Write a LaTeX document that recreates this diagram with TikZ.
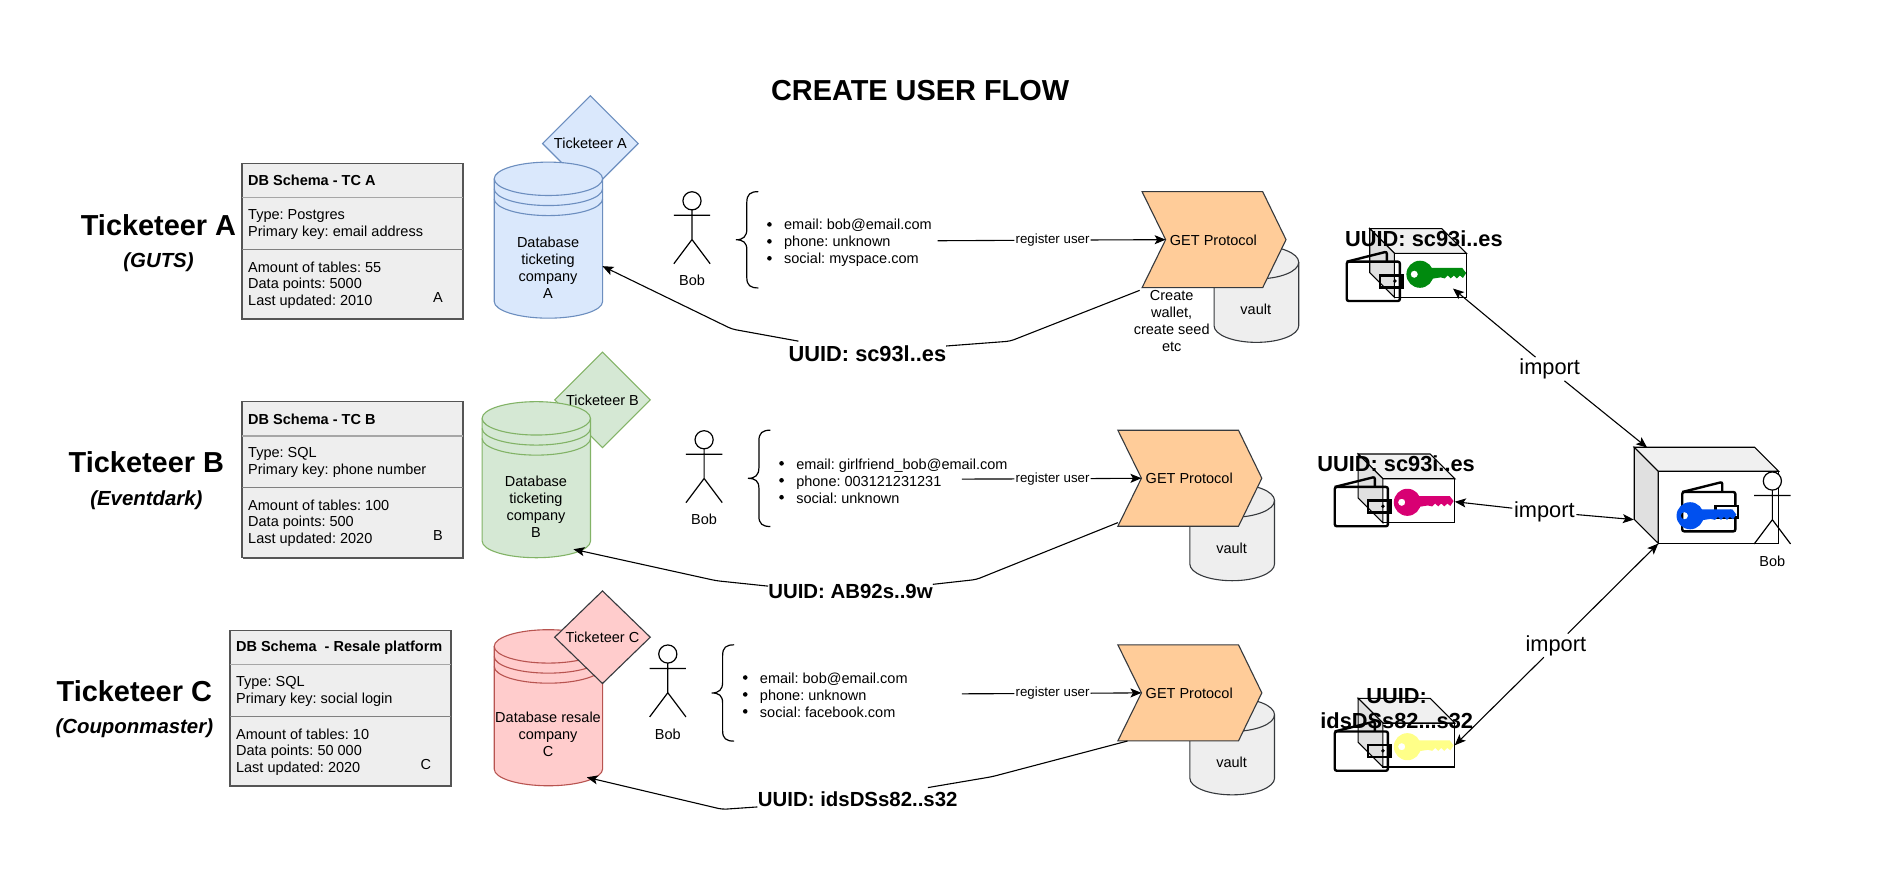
\documentclass[tikz,border=0pt]{standalone}
\usepackage{fontspec}
\setmainfont{Liberation Sans}
\usetikzlibrary{arrows.meta,shapes.geometric}
\AtBeginDocument{\frenchspacing}
\newcommand\fsA{\frenchspacing\fontsize{14.5}{17}\selectfont}
\newcommand\fsB{\frenchspacing\fontsize{21.8}{25}\selectfont}
\newcommand\fsC{\frenchspacing\fontsize{28.9}{33}\selectfont}
\newcommand\fsD{\frenchspacing\fontsize{13.3}{15.5}\selectfont}
\newcommand\fsE{\frenchspacing\fontsize{20.4}{23}\selectfont}
\newcommand\fsF{\frenchspacing\fontsize{20.4}{24}\selectfont}
\definecolor{stroke}{HTML}{36393D}
\definecolor{tablefill}{HTML}{EEEEEE}
\definecolor{tableedge}{HTML}{555555}
\definecolor{blueF}{HTML}{DAE8FC}\definecolor{blueS}{HTML}{6C8EBF}
\definecolor{greenF}{HTML}{D5E8D4}\definecolor{greenS}{HTML}{82B366}
\definecolor{redF}{HTML}{FFCCCC}\definecolor{redS}{HTML}{B85450}
\definecolor{stepF}{HTML}{FFCC99}
\definecolor{keyG}{HTML}{008A0E}\definecolor{keyP}{HTML}{D80073}
\definecolor{keyY}{HTML}{FFFF88}\definecolor{keyB}{HTML}{0050EF}
\tikzset{
  txt/.style={font=\fsA,inner sep=0pt,align=center},
  ltxt/.style={font=\fsA,inner sep=0pt,anchor=west,align=left},
  rowname/.style={font=\fsC\bfseries,inner sep=0pt},
  rowsub/.style={font=\fsE\bfseries\itshape,inner sep=0pt},
  uuid/.style={font=\fsB\bfseries,inner sep=2pt,align=center},
  imp/.style={font=\fsB,inner sep=1.5pt},
  reg/.style={font=\fsD,inner sep=1pt},
  conn/.style={line width=1.1pt,rounded corners=4pt},
  arrowc/.style={conn,-{Stealth[length=11pt,width=9pt,inset=2.5pt]}},
  dstone/.style={diamond,draw=#1,line width=1.1pt,minimum width=96pt,minimum height=96pt,inner sep=0pt,font=\fsA},
  figure/.style={line width=1.2pt,draw=black},
  vaultc/.style={draw=stroke,fill=tablefill,line width=1.1pt},
  cubeline/.style={draw=black,line width=1.1pt},
  walletline/.style={draw=black,line width=2.4pt,rounded corners=2pt},
}
\newcommand\cylshape[7]{%
  \begin{scope}[shift={(#2,#3)}]
    \pgfmathsetmacro\kx{0.5523*#5}\pgfmathsetmacro\ky{0.5523*#6}\pgfmathsetmacro\mb{#4-#6}
    \draw[#1] (-#5,#6) -- (-#5,\mb) .. controls (-#5,\mb+\ky) and (-\kx,#4) .. (0,#4)
      .. controls (\kx,#4) and (#5,\mb+\ky) .. (#5,\mb) -- (#5,#6)
      .. controls (#5,#6-\ky) and (\kx,0) .. (0,0)
      .. controls (-\kx,0) and (-#5,#6-\ky) .. (-#5,#6) -- cycle;
    \foreach \o in {#7}{
      \draw[#1,fill=none] (-#5,#6+\o) .. controls (-#5,#6+\o+\ky) and (-\kx,2*#6+\o) .. (0,2*#6+\o)
        .. controls (\kx,2*#6+\o) and (#5,#6+\o+\ky) .. (#5,#6+\o);
    }
  \end{scope}}
\newcommand\stepshape[3]{%
  \begin{scope}[shift={(#2,#3)}]
    \draw[draw=stroke,fill=stepF,line width=1.1pt] (0,0) -- (99.7,0) -- (119,39.7) -- (99.7,79.4) -- (0,79.4) -- (19.5,39.7) -- cycle;
    \coordinate (#1notch) at (19.5,39.7);
    \node[txt] (#1label) at (59,39.9) {GET Protocol};
  \end{scope}}
\newcommand\cubeshape[6]{%
  \begin{scope}[shift={(#2,#3)}]
    \draw[cubeline,fill=white] (#6,#6) rectangle (#6+#4,#6+#5);
    \draw[cubeline,fill=black!6] (0,0) -- (#4,0) -- (#4+#6,#6) -- (#6,#6) -- cycle;
    \draw[cubeline,fill=black!12] (0,0) -- (#6,#6) -- (#6,#6+#5) -- (0,#5) -- cycle;
    \coordinate (#1) at (0,0);
  \end{scope}}
\newcommand\walletshape[3][]{%
  \begin{scope}[shift={(#2,#3)}]
    \draw[walletline] (0,0) rectangle (43.9,32.5);
    \draw[walletline] (0,0) -- (33.1,-8.3) -- (33.1,0);
    \draw[draw=black,line width=2.4pt,#1] (27.4,11.3) rectangle (46.1,21.2);
    \fill (39.8,16) circle[radius=1.6];
  \end{scope}}
\newcommand\keyshape[3]{%
  \begin{scope}[shift={(#2,#3)}]
    \fill[#1,even odd rule] (0,0) circle[radius=11.2] (-4.7,0) circle[radius=3];
    \fill[#1] (8,-5.2) -- (35,-5.2) -- (38.2,-1) -- (35.5,3) -- (33,1) -- (30.5,3.4) -- (28,1) -- (25.5,3.4) -- (23,1) -- (20.5,3.4) -- (17,2.6) -- (8,4) -- cycle;
  \end{scope}}
\newcommand\tablebox[8]{%
  \begin{scope}[shift={(#2,#3)}]
    \draw[draw=tableedge,fill=tablefill,line width=1.5pt] (0,0) rectangle (183,129);
    \draw[draw=tableedge,line width=2pt] (0.5,129) -- (183,129) -- (183,0.5);
    \draw[draw=black!35,line width=1.6pt] (0,28.4) -- (183,28.4);
    \draw[draw=black!50,line width=1.1pt] (0,71) -- (183,71);
    \node[ltxt,font=\fsA\bfseries] (#1title) at (5,14.4) {#4};
    \node[ltxt] (#1type) at (5,43.4) {#5};
    \node[ltxt] (#1key) at (5,57.5) {#6};
    \node[ltxt] (#1tables) at (5,86) {#7};
    \node[ltxt] (#1points) at (5,100.4) {#8};
  \end{scope}}
\newcommand\tableend[4]{%
  \begin{scope}[shift={(#2,#3)}]
    \node[ltxt] (#1updated) at (5,114.4) {#4};
    \node[txt] (#1letter) at (162,111) {#1};
  \end{scope}}
\newcommand\bobfig[4][]{%
  \begin{scope}[shift={(#3,#4)}]
    \draw[figure,fill=white] (0,0) circle[radius=7.5];
    \draw[figure] (0,7.5) -- (0,32) (-15,12) -- (15,12) (-15,52) -- (0,32) -- (15,52);
    \node[txt] (#2) at (0,66) {Bob};
  \end{scope}}
\newcommand\bracefig[3]{%
  \begin{scope}[shift={(#2,#3)}]
    \draw[figure] (18.5,0) .. controls (12,0) and (9,2) .. (9,9) -- (9,31) .. controls (9,37) and (6,39.8) .. (0,39.8)
      .. controls (6,39.8) and (9,42) .. (9,48) -- (9,71) .. controls (9,77.5) and (12,79.6) .. (18.5,79.6);
    \coordinate (#1) at (0,39.8);
  \end{scope}}
\newcommand\bulletlist[6]{%
  \begin{scope}[shift={(#2,#3)}]
    \foreach \y in {-14,0,14}{\fill (0,\y) circle[radius=1.9];}
    \node[ltxt] (#1) at (12,1) {#4\\#5\\#6};
  \end{scope}}
\begin{document}
\begin{tikzpicture}[x=1.2098pt,y=-1.2098pt]
\useasboundingbox (0,0) rectangle (1568.03,734.84);
\fill[white] (0,0) rectangle (1568.03,734.84);

\node[font=\fsC\bfseries,inner sep=0pt] (title) at (760.5,75) {CREATE USER FLOW};

\node[rowname] (rowA) at (131,186) {Ticketeer A};
\node[rowsub]  (subA) at (131,217) {(GUTS)};
\node[rowname] (rowB) at (121,382) {Ticketeer B};
\node[rowsub]  (subB) at (121,413.5) {(Eventdark)};
\node[rowname] (rowC) at (111,571) {Ticketeer C};
\node[rowsub]  (subC) at (111,602) {(Couponmaster)};

\tablebox{A}{200}{135}{DB Schema - TC A}{Type: Postgres}{Primary key: email address}{Amount of tables: 55}{Data points: 5000}
\tableend{A}{200}{135}{Last updated: 2010}
\tablebox{B}{200}{332}{DB Schema - TC B}{Type: SQL}{Primary key: phone number}{Amount of tables: 100}{Data points: 500}
\tableend{B}{200}{332}{Last updated: 2020}
\tablebox{C}{190}{521}{DB Schema ~- Resale platform}{Type: SQL}{Primary key: social login}{Amount of tables: 10}{Data points: 50 000}
\tableend{C}{190}{521}{Last updated: 2020}

\node[dstone=blueS,fill=blueF] (diaA) at (488,118.7) {Ticketeer A};
\node[dstone=greenS,fill=greenF] (diaB) at (498,330.5) {Ticketeer B};
\cylshape{draw=blueS,fill=blueF,line width=1.1pt}{453.3}{134}{129}{44.8}{13.8}{0,8.3,16.6}
\cylshape{draw=greenS,fill=greenF,line width=1.1pt}{443.3}{332}{129}{44.8}{13.8}{0,8.3,16.6}
\cylshape{draw=redS,fill=redF,line width=1.1pt}{453.3}{520.5}{129}{44.8}{13.8}{0,8.3,16.6}
\node[dstone=stroke,fill=redF,minimum height=93pt] (diaC) at (498,526.7) {Ticketeer C};
\node[txt] (dbA) at (453,221) {Database\\ticketing\\company\\A};
\node[txt] (dbB) at (443,419) {Database\\ticketing\\company\\B};
\node[txt] (dbC) at (453,607) {Database resale\\company\\C};
\coordinate (tipA) at (498,220);
\coordinate (tipB) at (474,454);
\coordinate (tipC) at (485,642.5);

\bobfig{bobA}{572}{166}
\bobfig{bobB}{582}{363.5}
\bobfig{bobC}{552}{540.6}
\bracefig{braceA}{608.3}{158.4}
\bracefig{braceB}{618.3}{355.6}
\bracefig{braceC}{588.3}{533}
\bulletlist{listA}{636}{199.5}{email: bob@email.com}{phone: unknown}{social: myspace.com}
\bulletlist{listB}{646}{397}{email: girlfriend\_bob@email.com}{phone: 003121231231}{social: unknown}
\bulletlist{listC}{616}{574}{email: bob@email.com}{phone: unknown}{social: facebook.com}

\cylshape{vaultc}{1038.5}{203}{80}{35}{13.8}{0}
\cylshape{vaultc}{1018.5}{400}{80}{35}{13.8}{0}
\cylshape{vaultc}{1018.5}{577}{80}{35}{13.8}{0}
\node[txt] (vaultA) at (1038,255.5) {vault};
\node[txt] (vaultB) at (1018,453) {vault};
\node[txt] (vaultC) at (1018,630) {vault};
\stepshape{stepA}{944}{158.4}
\stepshape{stepB}{924}{355.6}
\stepshape{stepC}{924}{533}
\node[txt] (create) at (968.5,265) {Create\\wallet,\\create seed\\etc};

\node[reg] (regA) at (870,198.5) {register user};
\node[reg] (regB) at (870,395.8) {register user};
\node[reg] (regC) at (870,573.2) {register user};
\coordinate (regAs) at (775,199);
\coordinate (regBs) at (795,396);
\coordinate (regCs) at (795,573.5);
\draw[conn] (regAs) -- (regA);
\draw[arrowc] (regA) -- (stepAnotch);
\draw[conn] (regBs) -- (regB);
\draw[arrowc] (regB) -- (stepBnotch);
\draw[conn] (regCs) -- (regC);
\draw[arrowc] (regC) -- (stepCnotch);

\node[uuid] (uuidA) at (717,292.5) {UUID: sc93l..es};
\node[uuid,font=\fsF\bfseries] (uuidB) at (703,489) {UUID: AB92s..9w};
\node[uuid,font=\fsF\bfseries] (uuidC) at (709,660.5) {UUID: idsDSs82..s32};
\coordinate (startA) at (942,240);
\coordinate (a1) at (835,282);
\coordinate (a1e) at (782,286);
\coordinate (a3) at (660,282);
\coordinate (a2) at (605,272);
\coordinate (startB) at (924,432);
\coordinate (b1) at (807,479);
\coordinate (b1e) at (771,483);
\coordinate (b3) at (635,484.5);
\coordinate (b2) at (592,480);
\coordinate (startC) at (932,612.5);
\coordinate (c1) at (820,642);
\coordinate (c1e) at (767,651);
\coordinate (c3) at (626,667);
\coordinate (c2) at (597,669);
\draw[conn] (startA) -- (a1) -- (a1e);
\draw[arrowc] (a3) -- (a2) -- (tipA);
\draw[conn] (startB) -- (b1) -- (b1e);
\draw[arrowc] (b3) -- (b2) -- (tipB);
\draw[conn] (startC) -- (c1) -- (c1e);
\draw[arrowc] (c3) -- (c2) -- (tipC);

\cubeshape{safeA}{1132.2}{189}{59.5}{36.4}{20.4}
\walletshape{1113.2}{216.3}
\keyshape{keyG}{1173.7}{226.7}
\cubeshape{safeB}{1122.6}{375.3}{59.5}{36.4}{20.4}
\walletshape{1103.3}{402.5}
\keyshape{keyP}{1163.3}{415.2}
\cubeshape{safeC}{1122.6}{577.2}{59.5}{36.4}{20.4}
\walletshape{1103.3}{604.6}
\keyshape{keyY}{1163.3}{617.2}
\node[uuid,inner sep=0pt] (idA) at (1177,197) {UUID: sc93i..es};
\node[uuid,inner sep=0pt] (idB) at (1154,383) {UUID: sc93i..es};
\node[uuid,inner sep=0pt] (idC) at (1154.5,585.5) {UUID:\\idsDSs82...s32};

\cubeshape{safeBob}{1350.8}{369.7}{99.5}{59.5}{19.8}
\walletshape[fill=white]{1390.5}{406.7}
\keyshape{keyB}{1397}{426.3}
\bobfig{bobD}{1465}{397.6}
\coordinate (inA) at (1361.5,370);
\coordinate (inB) at (1350.5,429.5);
\coordinate (inC) at (1370.7,449.3);
\coordinate (keyAend) at (1201,238.5);
\coordinate (keyBend) at (1202.5,414.7);
\coordinate (keyCend) at (1202.5,616);

\node[imp] (impA) at (1281,305) {import};
\node[imp] (impB) at (1276.5,423) {import};
\node[imp] (impC) at (1286,533.5) {import};
\draw[arrowc] (impA) -- (keyAend);
\draw[arrowc] (impA) -- (inA);
\draw[arrowc] (impB) -- (keyBend);
\draw[arrowc] (impB) -- (inB);
\draw[arrowc] (impC) -- (keyCend);
\draw[arrowc] (impC) -- (inC);
\end{tikzpicture}
\end{document}
